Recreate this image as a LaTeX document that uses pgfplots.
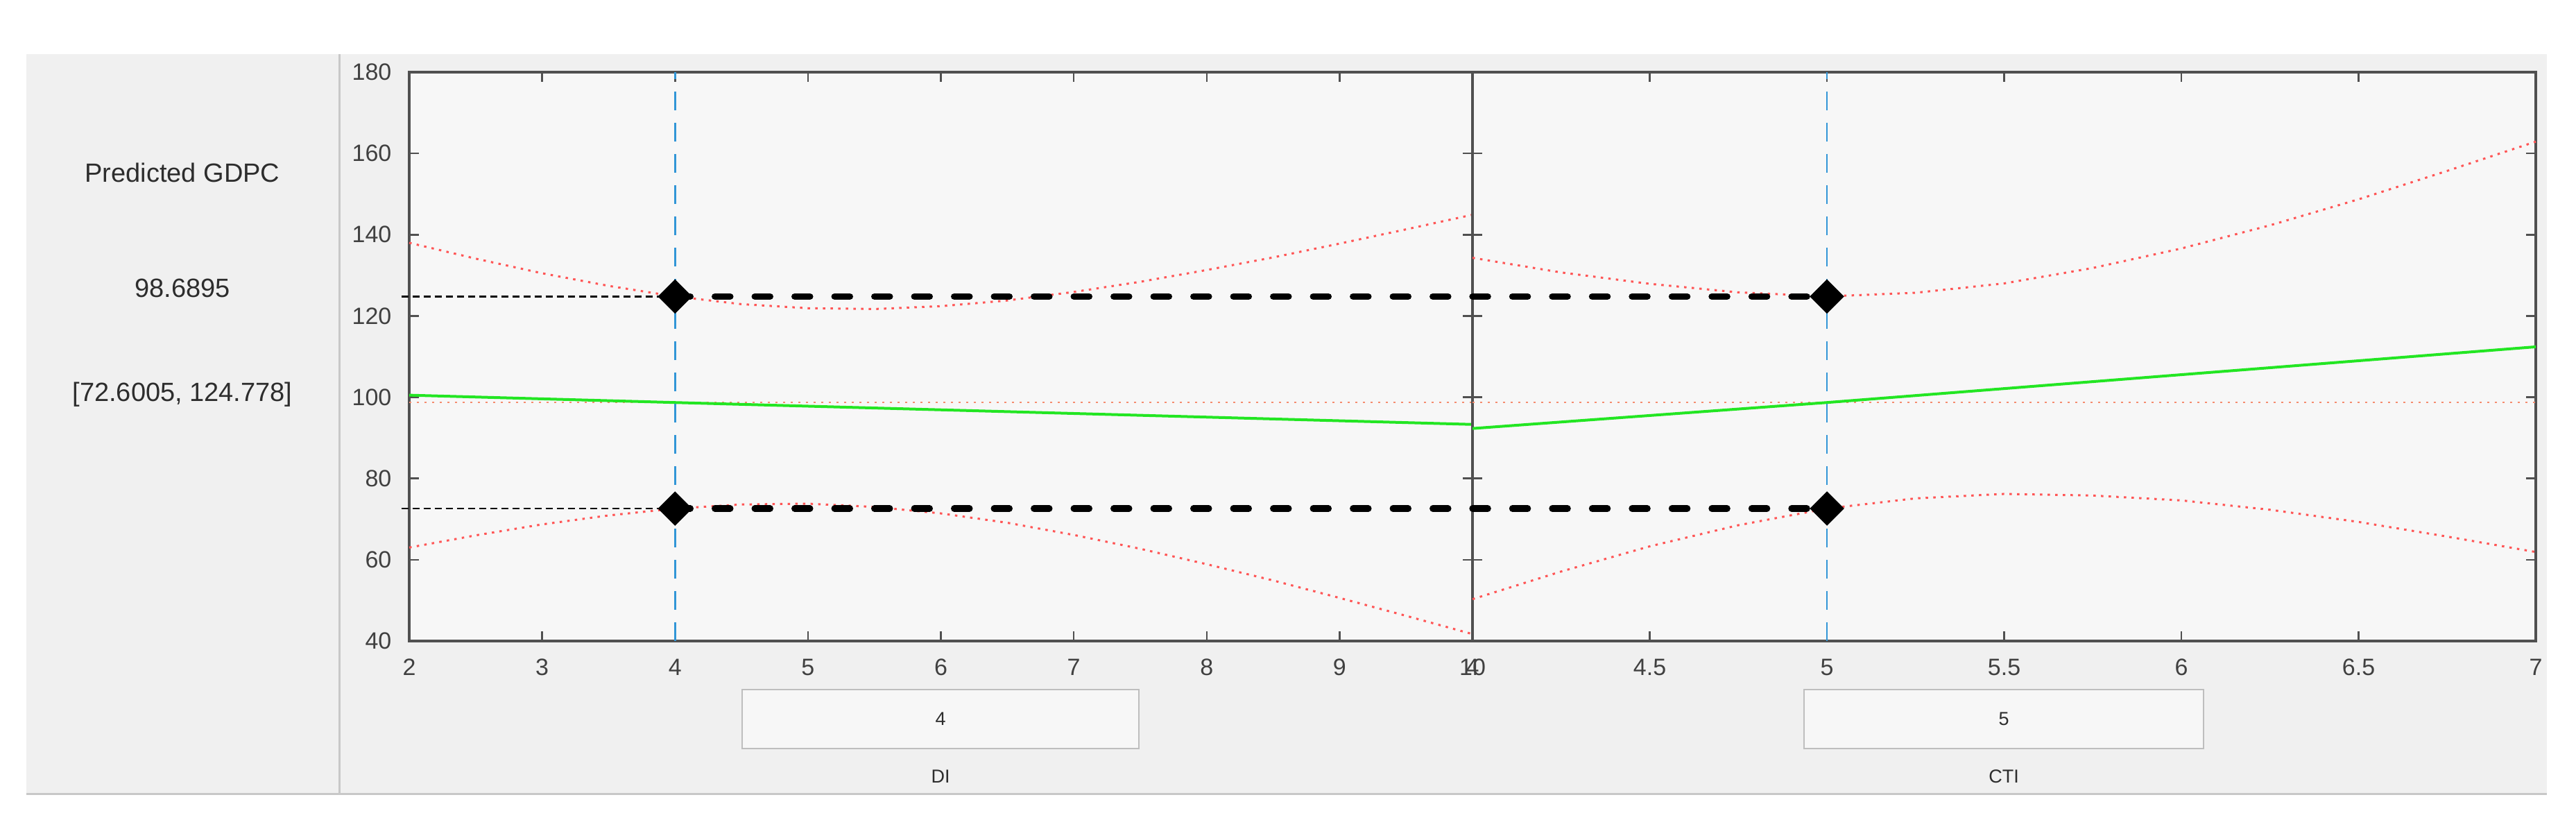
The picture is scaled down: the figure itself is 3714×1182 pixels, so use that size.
\documentclass[border=0pt]{standalone}
\usepackage{fontspec}
\setmainfont{Liberation Sans}
\usepackage{pgfplots}
\pgfplotsset{compat=1.18}

\definecolor{panelgray}{RGB}{240,240,240}
\definecolor{axbg}{RGB}{247,247,247}
\definecolor{axline}{RGB}{80,80,80}
\definecolor{ticktext}{RGB}{64,64,64}
\definecolor{fitgreen}{RGB}{35,230,35}
\definecolor{cired}{RGB}{255,85,85}
\definecolor{refred}{RGB}{245,140,110}
\definecolor{cursorblue}{RGB}{50,150,215}
\definecolor{boxedge}{RGB}{190,190,190}
\definecolor{sepgray}{RGB}{200,200,200}
\definecolor{uitext}{RGB}{45,45,45}

\pgfplotsset{
  slice/.style={
    scale only axis, width=306.6pt, height=164pt,
    ymin=40, ymax=180, ytick={40,60,...,180},
    tick align=inside, xtick pos=both, ytick pos=both,
    xticklabel pos=bottom, yticklabel pos=left,
    major tick length=2.8pt,
    axis background/.style={fill=axbg},
    axis line style={axline, line width=0.7pt},
    every tick/.style={axline, line width=0.5pt},
    tick label style={font=\fontsize{6.8}{8}\selectfont, text=ticktext},
    xticklabel style={anchor=center, yshift=-7.6pt},
    yticklabel style={xshift=-1.6pt},
    /pgf/number format/assume math mode=true,
    clip=false,
  },
  ci/.style={cired, line width=0.6pt, dash pattern=on 0.7pt off 1.5pt},
  refline/.style={refred, line width=0.5pt, dash pattern=on 0.6pt off 1.6pt},
  fit/.style={fitgreen, line width=0.8pt},
  cursor/.style={cursorblue, line width=0.5pt, dash pattern=on 5.4pt off 3.6pt},
  bound/.style={black, line width=1.9pt, line cap=round, dash pattern=on 4.4pt off 7.1pt},
  guide/.style={black, line width=0.5pt, dash pattern=on 2pt off 1.2pt},
  pick/.style={only marks, mark=square*, mark size=3.3pt, mark options={rotate=45, fill=black, draw=black}},
}

\begin{document}
\begin{tikzpicture}[x=0.2pt, y=0.2pt]
  % page and panel
  \fill[white] (0,0) rectangle (3714,1182);
  \fill[panelgray] (38,37) rectangle (3672,1104);
  \draw[sepgray, line width=0.6pt] (38,37) -- (3672,37);
  \draw[sepgray, line width=0.6pt] (489,37) -- (489,1104);

  % readout on the left
  \begin{scope}[font=\fontsize{7.6}{9}\selectfont, text=uitext]
    \node at (263,933) {Predicted GDPC};
    \node at (263,767) {98.6895};
    \node at (263,613) {[72.6005, 124.778]};
  \end{scope}

  % DI slice
  \begin{axis}[slice, at={(118pt,51.6pt)}, anchor=south west,
      xmin=2, xmax=10, xtick={2,3,4,5,6,7,8,9,10}]
    \addplot[refline] coordinates {(2,98.6895) (10,98.6895)};
    \addplot[ci] coordinates {
      (2,138.0) (2.5,134.1) (3,130.5) (3.5,127.4) (4,124.8) (4.5,122.9)
      (5,121.9) (5.5,121.7) (6,122.4) (6.5,123.8) (7,125.9) (7.5,128.4)
      (8,131.3) (8.5,134.4) (9,137.8) (9.5,141.3) (10,144.9)};
    \addplot[ci] coordinates {
      (2,63.0) (2.5,66.0) (3,68.7) (3.5,70.9) (4,72.6) (4.5,73.6)
      (5,73.8) (5.5,73.0) (6,71.4) (6.5,69.1) (7,66.1) (7.5,62.7)
      (8,58.9) (8.5,54.9) (9,50.6) (9.5,46.2) (10,41.7)};
    \addplot[fit] coordinates {(2,100.5) (4,98.6895) (10,93.3)};
    \addplot[cursor] coordinates {(4,40) (4,180)};
    \addplot[guide] coordinates {(1.94,124.778) (4,124.778)};
    \addplot[guide] coordinates {(1.94,72.6005) (4,72.6005)};
    \addplot[bound] coordinates {(4,124.778) (10,124.778)};
    \addplot[bound] coordinates {(4,72.6005) (10,72.6005)};
    \addplot[pick] coordinates {(4,124.778) (4,72.6005)};
  \end{axis}

  % CTI slice
  \begin{axis}[slice, at={(424.6pt,51.6pt)}, anchor=south west,
      xmin=4, xmax=7, xtick={4,4.5,5,5.5,6,6.5,7}, yticklabels={}]
    \addplot[refline] coordinates {(4,98.6895) (7,98.6895)};
    \addplot[ci] coordinates {
      (4,134.3) (4.25,130.7) (4.5,127.9) (4.75,125.8) (5,124.8) (5.25,125.7)
      (5.5,128.0) (5.75,131.8) (6,136.6) (6.25,142.3) (6.5,148.7)
      (6.75,155.7) (7,162.9)};
    \addplot[ci] coordinates {
      (4,50.3) (4.25,57.1) (4.5,63.3) (4.75,68.5) (5,72.6) (5.25,75.1)
      (5.5,76.2) (5.75,75.8) (6,74.6) (6.25,72.3) (6.5,69.3)
      (6.75,65.7) (7,61.9)};
    \addplot[fit] coordinates {(4,92.3) (5,98.6895) (7,112.4)};
    \addplot[cursor] coordinates {(5,40) (5,180)};
    \addplot[bound] coordinates {(4,124.778) (5,124.778)};
    \addplot[bound] coordinates {(4,72.6005) (5,72.6005)};
    \addplot[pick] coordinates {(5,124.778) (5,72.6005)};
  \end{axis}

  % value boxes and predictor names
  \begin{scope}[text=uitext]
    \draw[boxedge, fill=axbg, line width=0.5pt] (1070,103) rectangle (1642,188);
    \node[font=\fontsize{5.4}{6}\selectfont] at (1356,145.5) {4};
    \node[font=\fontsize{5.4}{6}\selectfont] at (1356,63) {DI};
    \draw[boxedge, fill=axbg, line width=0.5pt] (2601,103) rectangle (3177,188);
    \node[font=\fontsize{5.4}{6}\selectfont] at (2889,145.5) {5};
    \node[font=\fontsize{5.4}{6}\selectfont] at (2889,63) {CTI};
  \end{scope}
\end{tikzpicture}
\end{document}
